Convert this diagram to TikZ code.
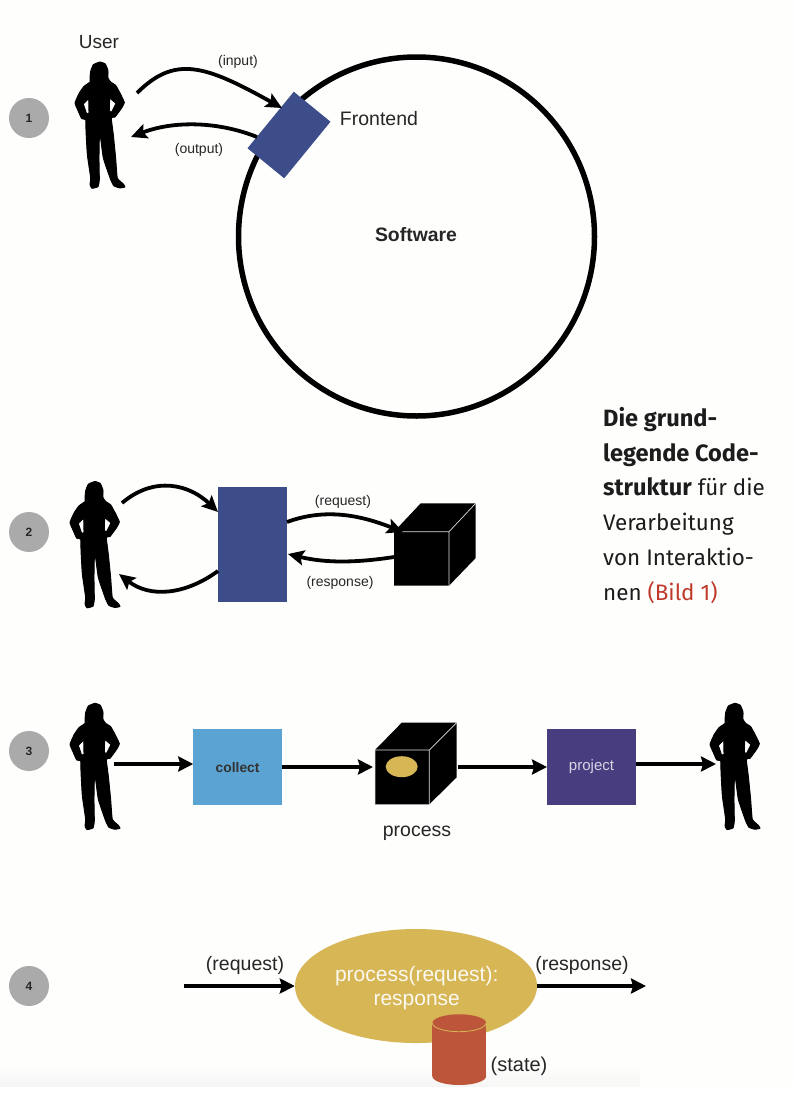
\documentclass[tikz,border=0pt]{standalone}
\usepackage{fontspec}
\setmainfont{Liberation Sans}
\newfontfamily\capfont{Fira Sans}
\usetikzlibrary{arrows.meta,shapes.geometric}
\definecolor{bgpaper}{HTML}{FEFEFD}
\definecolor{badgegray}{HTML}{A9AAA9}
\definecolor{navy}{HTML}{3C4D8A}
\definecolor{skyb}{HTML}{5BA3D2}
\definecolor{violetb}{HTML}{483D7E}
\definecolor{gold}{HTML}{D6B655}
\definecolor{brick}{HTML}{BC5539}
\definecolor{capred}{HTML}{C0392B}
\definecolor{capblack}{HTML}{1C1C1C}
\tikzset{
  x=1pt,y=-1pt,
  badge/.style={circle,fill=badgegray,minimum size=40pt,inner sep=0pt,font=\fontsize{12}{14}\selectfont\bfseries,text=black!85},
  lbl/.style={inner sep=0pt,text=black!85,font=\fontsize{14}{16}\selectfont},
  biglbl/.style={inner sep=0pt,text=black!85,font=\fontsize{19.5}{23}\selectfont},
  arc1/.style={line width=3.8pt,-{Stealth[length=16pt,width=15pt,inset=3pt]}},
  arrow3/.style={line width=3.5pt,-{Stealth[length=15pt,width=15pt,inset=2pt]}},
  blockbox/.style={rectangle,inner sep=0pt,outer sep=0pt},
  person/.pic={
    \filldraw[black,line width=0.9pt,line join=round,x=0.3333pt,y=-0.3333pt,shift={(-90,-12)},even odd rule]
      plot[smooth cycle,tension=0.25] coordinates {
      (90,12)(106,18)(114,38)(114,60)(122,72)(137,82)(150,105)(163,133)(155,150)(135,177)(124,180)
      (130,230)(137,300)(142,360)(160,378)(165,387)(150,390)(132,384)(122,365)(100,300)(89,222)
      (87,300)(88,365)(84,386)(66,391)(60,380)(62,360)(52,290)(48,220)(47,185)(35,182)(25,160)
      (15,135)(28,105)(42,85)(60,72)(60,60)(62,40)(70,20)}
      (56,122)--(40,138)--(50,168)--(57,165)--cycle
      (119,120)--(138,136)--(125,162)--(118,160)--cycle;
  },
  cubeedge/.style={draw=black!12,line width=0.7pt},
}
\begin{document}
\begin{tikzpicture}
\useasboundingbox (0,0) rectangle (795,1098);
\fill[bgpaper] (0,0) rectangle (795,1087);
\shade[top color=bgpaper,bottom color=black!4] (0,1066) rectangle (640,1087);
\foreach \i in {0,...,15} {\fill[bgpaper,opacity=0.18] (480+10*\i,1060) rectangle (640,1087);}
\fill[white] (0,1087) rectangle (795,1098);

% badges
\node[badge] (b1) at (29,118) {1};
\node[badge] (b2) at (29,532) {2};
\node[badge] (b3) at (29,751) {3};
\node[badge] (b4) at (29,986) {4};

% panel 1
\node[ellipse,draw=black,line width=5.5pt,minimum width=356pt,minimum height=359pt,inner sep=0pt] (soft) at (416.5,236.5) {};
\node[inner sep=0pt,font=\fontsize{19.4}{22}\selectfont\bfseries,text=black!85] (softl) at (416,235) {Software};
\pic at (100,62) {person};
\node[biglbl,font=\fontsize{19}{22}\selectfont] (userl) at (99,42) {User};
\node[blockbox,fill=navy,minimum width=47.4pt,minimum height=73.1pt,rotate=-39.3] (front) at (289,135) {};
\node[biglbl] (frontl) at (379,119) {Frontend};
\coordinate (u1a) at (137,93);
\coordinate (u1b) at (131,137);
\coordinate (f1a) at (282,108);
\coordinate (f1b) at (257,137);
\draw[arc1] (u1a) .. controls (175,55) and (205,65) .. (f1a);
\draw[arc1] (f1b) .. controls (220,122) and (175,120) .. (u1b);
\node[lbl] (inl) at (238,62) {(input)};
\node[lbl] (outl) at (199,150) {(output)};

% panel 2
\pic at (95,481.5) {person};
\node[blockbox,fill=navy,minimum width=69.3pt,minimum height=114.4pt] (blue2) at (252.7,544.5) {};
\coordinate (u2a) at (122,503);
\coordinate (u2b) at (119,574);
\coordinate (c2b) at (394,557);
\fill[black] (394,531.7) -- (420.7,503.3) -- (475.7,503.3) -- (475.7,558) -- (449,585.7) -- (394,585.7) -- cycle;
\draw[cubeedge] (401,531.7) -- (449,531.7) -- (475.7,503.3) (449,531.7) -- (449,585.7);
\draw[arc1] (u2a) .. controls (155,475) and (190,485) .. (218,512);
\draw[arc1] (218,571) .. controls (185,595) and (150,598) .. (u2b);
\draw[arc1] (287,522) .. controls (325,508) and (360,515) .. (403,532);
\draw[arc1] (c2b) .. controls (355,563) and (325,563) .. (288,554);
\node[lbl] (reql2) at (343,502) {(request)};
\node[lbl] (resl2) at (340,583) {(response)};

% panel 3
\pic at (95,703.3) {person};
\pic at (735,703.3) {person};
\node[blockbox,fill=skyb,minimum width=88.7pt,minimum height=76pt,text depth=0pt,font=\fontsize{13.8}{15}\selectfont\bfseries,text=black!80] (collect) at (237.6,767) {collect};
\node[blockbox,fill=violetb,minimum width=89pt,minimum height=76pt,font=\fontsize{15}{17}\selectfont,text=white!78!violetb] (project) at (591.5,767) {\raisebox{-2pt}{project}};
\fill[black] (375,750) -- (401.7,722.7) -- (456.7,722.7) -- (456.7,777.3) -- (429.3,804.3) -- (375,804.3) -- cycle;
\draw[cubeedge] (375,804.3) -- (375,750) -- (429.3,750) -- (456.7,722.7) (429.3,750) -- (429.3,804.3);
\node[ellipse,fill=gold,minimum width=32pt,minimum height=21pt,inner sep=0pt] (pball) at (401.7,766.7) {};
\node[biglbl] (procl) at (417,833) {process};
\coordinate (u3a) at (114,764);
\coordinate (u3b) at (716,764);
\coordinate (cube3l) at (373,767);
\coordinate (cube3r) at (458,767);
\draw[arrow3] (u3a) -- (collect.west |- u3a);
\draw[arrow3] (collect.east) -- (cube3l);
\draw[arrow3] (cube3r) -- (project.west);
\draw[arrow3] (project.east |- u3b) -- (u3b);

% panel 4
\node[ellipse,fill=gold,minimum width=242pt,minimum height=114pt,inner sep=0pt] (proc4) at (416,986) {};
\node[inner sep=0pt,align=center,text=white!92!gold,font=\fontsize{21}{23.5}\selectfont] (proc4l) at (416.7,988) {process(request):\\response};
\fill[brick] (432.3,1023) rectangle (486,1076);
\fill[brick] (459.2,1076.3) ellipse [x radius=26.85,y radius=8.7];
\fill[brick] (459.2,1023) ellipse [x radius=26.85,y radius=8.7];
\draw[gold,line width=0.8pt] (432.3,1023) arc[start angle=180,end angle=0,x radius=26.85,y radius=8.7];
\coordinate (in4) at (184,986);
\coordinate (out4) at (646,986);
\draw[arrow3] (in4) -- (proc4.west);
\draw[arrow3] (proc4.east) -- (out4);
\node[biglbl] (reql4) at (245,965) {(request)};
\node[biglbl] (resl4) at (582,965) {(response)};
\node[biglbl,font=\fontsize{20}{23}\selectfont] (statel) at (519,1066) {(state)};

% caption
\node[anchor=north west,inner sep=0pt,align=left,text=capblack,font=\capfont\fontsize{22.4}{34.8}\selectfont] (cap) at (603,407)
 {{\fontsize{23.6}{34.8}\selectfont\textbf{Die grund-}}\\{\fontsize{23.6}{34.8}\selectfont\textbf{legende Code-}}\\{\fontsize{23.6}{34.8}\selectfont\textbf{struktur}} für die\\Verarbeitung\\von Interaktio-\\nen \textcolor{capred}{(Bild 1)}};
\end{tikzpicture}
\end{document}
